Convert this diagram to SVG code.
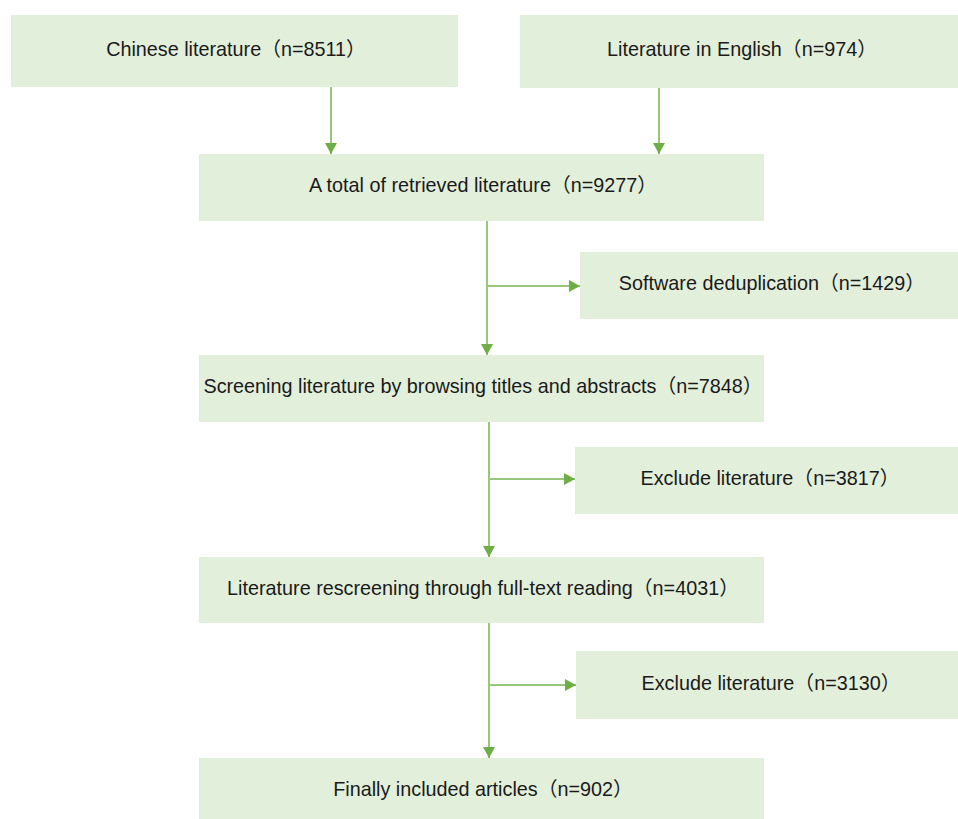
<svg xmlns="http://www.w3.org/2000/svg" width="958" height="819" viewBox="0 0 958 819">
<defs>
<style>
.box{fill:#E2EFDA;}
.lbl{font-family:"Liberation Sans","Noto Sans CJK SC",Arial,sans-serif;font-size:19.8px;fill:#1a1a1a;text-anchor:middle;}
.con{stroke:#96C878;stroke-width:2;fill:none;}
</style>
<marker id="ah" markerUnits="userSpaceOnUse" markerWidth="12" markerHeight="12" refX="11" refY="6" orient="auto">
<path d="M0,0 L11,6 L0,12 z" fill="#6EAE46"/>
</marker>
</defs>
<rect width="958" height="819" fill="#ffffff"/>
<g id="n1"><rect class="box" x="11" y="15" width="447" height="72"/><text class="lbl" x="236" y="56">Chinese literature（n=8511）</text></g>
<g id="n2"><rect class="box" x="520" y="15" width="438" height="73"/><text class="lbl" x="742" y="56">Literature in English（n=974）</text></g>
<g id="n3"><rect class="box" x="199" y="154" width="565" height="67"/><text class="lbl" x="483" y="192">A total of retrieved literature（n=9277）</text></g>
<g id="n4"><rect class="box" x="580" y="252" width="378" height="67"/><text class="lbl" x="772" y="290">Software deduplication（n=1429）</text></g>
<g id="n5"><rect class="box" x="199" y="355" width="565" height="67"/><text class="lbl" x="483" y="393">Screening literature by browsing titles and abstracts（n=7848）</text></g>
<g id="n6"><rect class="box" x="575" y="447" width="383" height="67"/><text class="lbl" x="770" y="485">Exclude literature（n=3817）</text></g>
<g id="n7"><rect class="box" x="199" y="557" width="565" height="66"/><text class="lbl" x="483" y="595">Literature rescreening through full-text reading（n=4031）</text></g>
<g id="n8"><rect class="box" x="576" y="651" width="382" height="68"/><text class="lbl" x="771" y="690">Exclude literature（n=3130）</text></g>
<g id="n9"><rect class="box" x="199" y="758" width="565" height="61"/><text class="lbl" x="483" y="796">Finally included articles（n=902）</text></g>
<g id="connectors">
<path class="con" d="M331,87 V154" marker-end="url(#ah)"/>
<path class="con" d="M659,88 V154" marker-end="url(#ah)"/>
<path class="con" d="M487,221 V355" marker-end="url(#ah)"/>
<path class="con" d="M487,286 H580" marker-end="url(#ah)"/>
<path class="con" d="M489,422 V557" marker-end="url(#ah)"/>
<path class="con" d="M489,479 H575" marker-end="url(#ah)"/>
<path class="con" d="M489,623 V758" marker-end="url(#ah)"/>
<path class="con" d="M489,685 H576" marker-end="url(#ah)"/>
</g>
</svg>
